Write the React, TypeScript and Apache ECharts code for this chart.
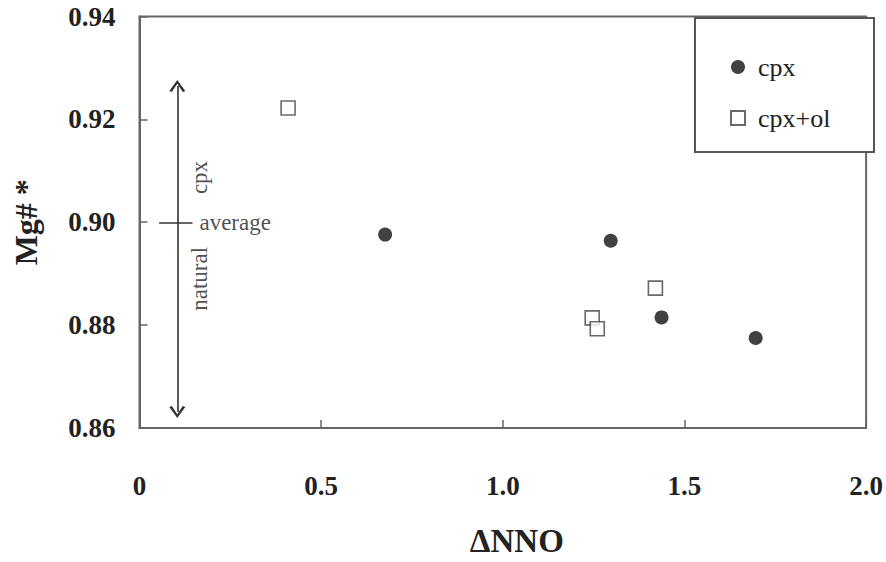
import React, { useEffect, useRef } from "react";
import * as echarts from "echarts";

const cpxX = [0.676, 1.297, 1.437, 1.696];
const cpxY = [0.8976, 0.8964, 0.8815, 0.8775];
const olX = [0.409, 1.246, 1.26, 1.42];
const olY = [0.9222, 0.8814, 0.8793, 0.8872];

const xTicks = { min: 0, max: 2, interval: 0.5 };
const yTicks = { min: 0.86, max: 0.94, interval: 0.02 };

// natural cpx range annotation (data units)
const rangeX = 0.104;
const rangeLow = 0.8631;
const rangeHigh = 0.9265;
const averageY = 0.9;
const averageTick = [0.054, 0.146];
const noteX = 0.165;
const cpxNoteY = 0.9087;
const naturalNoteY = 0.889;

const FONT = "'Liberation Serif', 'DejaVu Serif', serif";
const TXT = "#222";
const chevron = "path://M0,10 L5,0 L10,10 L8.4,10.8 L5,3.4 L1.6,10.8 Z";

export default function App() {
  const ref = useRef<HTMLDivElement>(null);
  useEffect(() => {
    if (!ref.current) return;
    const chart = echarts.init(ref.current, null, { renderer: "svg" });
    chart.setOption({
      animation: false,
      backgroundColor: "#ffffff",
      textStyle: { fontFamily: FONT },
      grid: {
        left: 139.5,
        right: 13.5,
        top: 16.5,
        bottom: 132.5,
        show: true,
        borderColor: "#666",
        borderWidth: 2,
        backgroundColor: "transparent",
      },
      xAxis: {
        type: "value",
        min: xTicks.min,
        max: xTicks.max,
        interval: xTicks.interval,
        name: "ΔNNO",
        nameLocation: "middle",
        nameGap: 96,
        nameTextStyle: {
          fontFamily: FONT,
          fontSize: 33,
          fontWeight: "bold",
          color: TXT,
          padding: [0, 0, 0, 28],
        },
        axisLine: { show: true, lineStyle: { color: "#666", width: 2 } },
        axisTick: { show: true, inside: true, length: 8, lineStyle: { color: "#666", width: 1.5 } },
        splitLine: { show: false },
        axisLabel: {
          margin: 44,
          fontFamily: FONT,
          fontSize: 27,
          fontWeight: "bold",
          color: TXT,
          formatter: (v: number) => (v === 0 ? "0" : v.toFixed(1)),
        },
      },
      yAxis: {
        type: "value",
        min: yTicks.min,
        max: yTicks.max,
        interval: yTicks.interval,
        name: "Mg# *",
        nameLocation: "middle",
        nameGap: 98,
        nameTextStyle: { fontFamily: FONT, fontSize: 32, fontWeight: "bold", color: TXT },
        axisLine: { show: true, lineStyle: { color: "#666", width: 2 } },
        axisTick: { show: true, inside: true, length: 8, lineStyle: { color: "#666", width: 1.5 } },
        splitLine: { show: false },
        axisLabel: {
          margin: 24,
          fontFamily: FONT,
          fontSize: 27,
          fontWeight: "bold",
          color: TXT,
          formatter: (v: number) => v.toFixed(2),
        },
      },
      legend: {
        orient: "vertical",
        left: 725,
        top: 49,
        itemWidth: 14,
        itemHeight: 14,
        itemGap: 25,
        z: 10,
        textStyle: {
          fontFamily: FONT,
          fontSize: 26,
          lineHeight: 26,
          color: TXT,
          padding: [0, 0, 0, 8],
        },
        data: ["cpx", "cpx+ol"],
      },
      graphic: [
        {
          type: "rect",
          left: 694,
          top: 17,
          shape: { width: 179, height: 134 },
          style: { fill: "#fff", stroke: "#555", lineWidth: 2 },
          z: 1,
        },
      ],
      series: [
        {
          name: "cpx",
          type: "scatter",
          symbol: "circle",
          symbolSize: 14,
          itemStyle: { color: "#111" },
          data: cpxX.map((x, i) => [x, cpxY[i]]),
          z: 3,
        },
        {
          name: "cpx+ol",
          type: "scatter",
          symbol: "rect",
          symbolSize: 14,
          itemStyle: { color: "#fff", borderColor: "#444", borderWidth: 1.6 },
          data: olX.map((x, i) => [x, olY[i]]),
          z: 3,
        },
        {
          name: "annotation",
          type: "scatter",
          symbolSize: 0,
          silent: true,
          data: [
            {
              value: [noteX, averageY],
              label: { show: true, position: "inside", align: "left", formatter: "average" },
            },
            {
              value: [noteX, cpxNoteY],
              label: { show: true, position: "inside", rotate: 90, formatter: "cpx" },
            },
            {
              value: [noteX, naturalNoteY],
              label: { show: true, position: "inside", rotate: 90, formatter: "natural" },
            },
          ],
          label: { fontFamily: FONT, fontSize: 23, color: TXT },
          markLine: {
            silent: true,
            animation: false,
            label: { show: false },
            lineStyle: { color: "#333", width: 1.6, type: "solid" },
            data: [
              [
                { coord: [rangeX, rangeLow], symbol: chevron, symbolSize: [16, 12] },
                { coord: [rangeX, rangeHigh], symbol: chevron, symbolSize: [16, 12] },
              ],
              [
                { coord: [averageTick[0], averageY], symbol: "none" },
                { coord: [averageTick[1], averageY], symbol: "none" },
              ],
            ],
          },
        },
      ],
    });
    return () => chart.dispose();
  }, []);
  return (
    <div
      ref={ref}
      style={{ position: "fixed", left: 0, top: 0, width: 886, height: 562 }}
    />
  );
}
